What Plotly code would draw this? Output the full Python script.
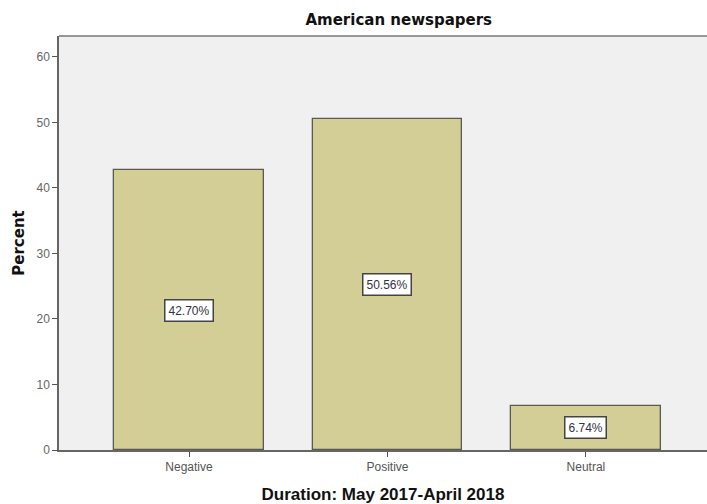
import plotly.graph_objects as go

categories = ["Negative", "Positive", "Neutral"]
percent = [42.70, 50.56, 6.74]
labels = ["42.70%", "50.56%", "6.74%"]
y_ticks = [0, 10, 20, 30, 40, 50, 60]

fig = go.Figure()
fig.add_trace(go.Bar(
    x=[0, 1, 2], y=percent, width=0.755,
    marker=dict(color="#d3ce96", line=dict(color="#5a5a50", width=1.3)),
    hoverinfo="skip",
))

for i, (v, t) in enumerate(zip(percent, labels)):
    fig.add_annotation(
        x=i, y=v / 2, text=t, showarrow=False,
        font=dict(family="Liberation Sans, Arial", size=12, color="#333344"),
        bgcolor="white", bordercolor="#444444", borderwidth=1.5, borderpad=3,
    )

fig.update_layout(
    width=707, height=504,
    margin=dict(l=59, r=0, t=36, b=54, pad=0, autoexpand=False),
    paper_bgcolor="white", plot_bgcolor="#f0f0f0",
    showlegend=False,
    title=dict(text="<b>American newspapers</b>", x=0.564, xanchor="center",
               y=1 - 20 / 504, yanchor="middle",
               font=dict(family="DejaVu Sans", size=15, color="#111111")),
    bargap=0,
)
fig.update_xaxes(
    automargin=False,
    range=[-0.655, 2.61], tickmode="array", tickvals=[0, 1, 2], ticktext=categories,
    ticks="outside", ticklen=5, tickcolor="#555555",
    tickfont=dict(family="Liberation Sans, Arial", size=12, color="#555555"),
    showline=True, linecolor="#666666", linewidth=1.5, mirror=False,
    showgrid=False, zeroline=False,
    title=dict(text="<b>Duration: May 2017-April 2018</b>", standoff=18,
               font=dict(family="Liberation Sans, Arial", size=17, color="#111111")),
)
fig.update_yaxes(
    automargin=False,
    range=[0, 63.2], tickmode="array", tickvals=y_ticks,
    ticks="outside", ticklen=5, tickcolor="#555555",
    tickfont=dict(family="Liberation Sans, Arial", size=12, color="#666666"),
    showline=True, linecolor="#666666", linewidth=1.5,
    showgrid=False, zeroline=False,
    title=dict(text="<b>Percent</b>", standoff=8,
               font=dict(family="DejaVu Sans", size=15, color="#111111")),
)
fig.add_shape(type="line", xref="paper", yref="paper", x0=0, x1=1, y0=1, y1=1,
              line=dict(color="#777777", width=1.5))

fig.write_html("out.html", config={"displayModeBar": False},
               post_script="document.body.style.margin='0';")
